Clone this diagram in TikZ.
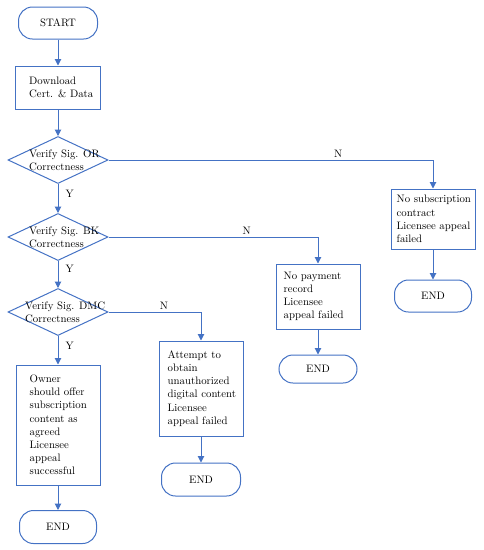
\documentclass[tikz,border=0pt]{standalone}
\usetikzlibrary{shapes.geometric,arrows.meta}
\definecolor{flowblue}{RGB}{68,114,196}
\begin{document}
\begin{tikzpicture}[x=1pt,y=-1pt,
  every node/.style={font=\fontsize{10.8}{13.2}\selectfont, text=black},
  term/.style={draw=flowblue, line width=1pt, rounded corners=14pt, minimum width=78pt, minimum height=32pt, inner sep=0pt},
  proc/.style={draw=flowblue, line width=1pt, inner sep=0pt},
  dec/.style={draw=flowblue, line width=1pt, diamond, inner sep=0pt, minimum width=100pt, minimum height=47pt},
  txt/.style={anchor=west, align=left, inner sep=0pt},
  arr/.style={draw=flowblue, line width=1pt, -{Triangle[length=6.5pt,width=6.5pt]}},
  ylab/.style={anchor=west, inner sep=0pt, xshift=7pt},
  nlab/.style={anchor=south, inner sep=2pt}]
\useasboundingbox (0,0) rectangle (483,550);

% main column
\node[term, minimum width=79pt] (start) at (58,23) {START};
\node[proc, minimum width=85pt, minimum height=43pt] (dl) at (58,87.5) {};
\node[txt] (dlt) at ([xshift=14pt]dl.west) {Download\\Cert. \& Data};

\node[dec] (or) at (58,160) {};
\node[txt] (ort) at (29,160.5) {Verify Sig. OR\\Correctness};
\node[dec] (bk) at (58,237) {};
\node[txt] (bkt) at (29,237.5) {Verify Sig. BK\\Correctness};
\node[dec] (dmc) at (58,312) {};
\node[txt] (dmct) at (25,312.5) {Verify Sig. DMC\\Correctness};

\node[proc, minimum width=84pt, minimum height=120pt] (own) at (58,425) {};
\node[txt] (ownt) at ([xshift=14pt]own.west) {Owner\\should offer\\subscription\\content as\\agreed\\Licensee\\appeal\\successful};
\node[term, minimum width=77pt, minimum height=33pt] (end4) at (58,527) {END};

% branch 1
\node[proc, minimum width=84pt, minimum height=60pt] (nosub) at (433,219) {};
\node[txt] (nosubt) at ([xshift=6pt]nosub.west) {No subscription\\contract\\Licensee appeal\\failed};
\node[term, minimum width=77pt, minimum height=32pt] (end1) at (433,296) {END};

% branch 2
\node[proc, minimum width=84pt, minimum height=65pt] (nopay) at (318,296.5) {};
\node[txt] (nopayt) at ([xshift=8pt]nopay.west) {No payment\\record\\Licensee\\appeal failed};
\node[term, minimum width=78pt, minimum height=28pt] (end2) at (318,369) {END};

% branch 3
\node[proc, minimum width=84pt, minimum height=95pt] (att) at (201,388.5) {};
\node[txt] (attt) at ([xshift=9pt]att.west) {Attempt to\\obtain\\unauthorized\\digital content\\Licensee\\appeal failed};
\node[term, minimum width=79pt, minimum height=33pt] (end3) at (201,479.5) {END};

% connectors
\draw[arr] (start) -- (dl);
\draw[arr] (dl) -- (or);
\draw[arr] (or) -- node[ylab, pos=0.35] (y1) {Y} (bk);
\draw[arr] (bk) -- node[ylab, pos=0.3] (y2) {Y} (dmc);
\draw[arr] (dmc) -- node[ylab, pos=0.35] (y3) {Y} (own);
\draw[arr] (own) -- (end4);

\draw[arr] (or.east) -| node[nlab, pos=0.354] (n1) {N} (nosub.north);
\draw[arr] (nosub) -- (end1);
\draw[arr] (bk.east) -| node[nlab, pos=0.33] (n2) {N} (nopay.north);
\draw[arr] (nopay) -- (end2);
\draw[arr] (dmc.east) -| node[nlab, pos=0.3] (n3) {N} (att.north);
\draw[arr] (att) -- (end3);
\end{tikzpicture}
\end{document}
